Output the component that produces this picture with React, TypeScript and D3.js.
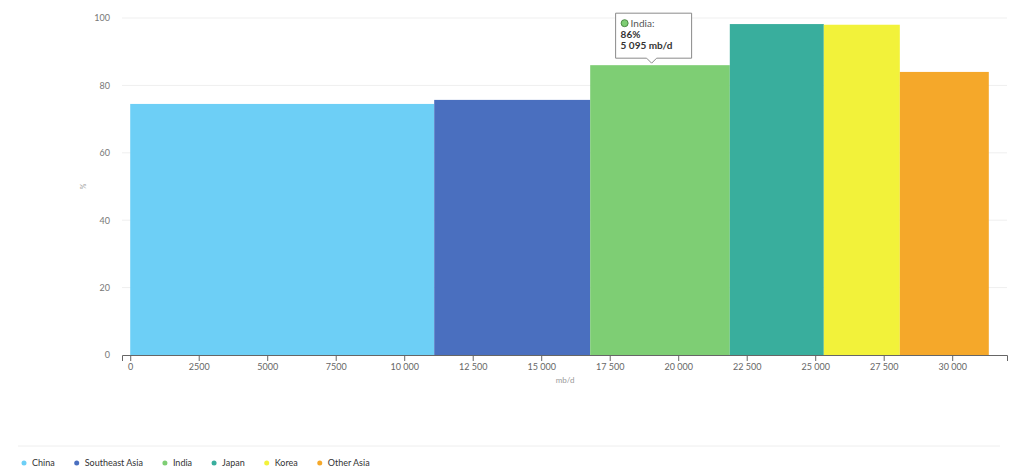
import { useEffect, useRef } from 'react'
import * as d3 from 'd3'

// Regions, share (%) and volume (mb/d, bar width)
const REGIONS = ['China', 'Southeast Asia', 'India', 'Japan', 'Korea', 'Other Asia']
const SHARES = [74.5, 75.7, 86, 98.2, 98, 84]
const VOLUMES = [11095, 5693, 5095, 3431, 2774, 3248]
const COLORS = ['#6DCFF6', '#4A6FBF', '#7ECE74', '#39AE9D', '#F2F23A', '#F5A82A']
const X_TICKS = [0, 2500, 5000, 7500, 10000, 12500, 15000, 17500, 20000, 22500, 25000, 27500, 30000]
const Y_TICKS = [0, 20, 40, 60, 80, 100]
const TOOLTIP_INDEX = 2

const W = 1015
const H = 470
const FONT = 'Lato, "Open Sans", sans-serif'

const spaced = (v: number) => d3.format(',')(v).replace(/,/g, ' ')
const fmtX = (v: number) => (v >= 10000 ? spaced(v) : String(v))

export default function App() {
  const svgRef = useRef<SVGSVGElement>(null)

  useEffect(() => {
    const svg = d3.select(svgRef.current)
    svg.selectAll('*').remove()
    svg.attr('viewBox', `0 0 ${W} ${H}`).style('font-family', FONT)

    const x = d3.scaleLinear().domain([-300, 32000]).range([122, 1007])
    const y = d3.scaleLinear().domain([0, 100]).range([355, 18])

    // starting positions of the variable-width bars
    const starts: number[] = []
    VOLUMES.reduce((acc, v, i) => { starts[i] = acc; return acc + v }, 0)

    // ── grid ──
    const grid = svg.append('g')
    Y_TICKS.filter((t) => t > 0).forEach((t) => {
      grid.append('line')
        .attr('x1', x.range()[0]).attr('x2', x.range()[1])
        .attr('y1', y(t)).attr('y2', y(t))
        .attr('stroke', '#efefef').attr('stroke-width', 1)
    })

    // ── y axis labels ──
    const ya = svg.append('g').attr('transform', `translate(${x.range()[0]},0)`)
      .call(d3.axisLeft(y).tickValues(Y_TICKS).tickSize(0).tickPadding(12))
    ya.select('.domain').remove()
    ya.selectAll('text').attr('font-size', 9).attr('fill', '#777').style('font-family', FONT)

    svg.append('text')
      .attr('transform', `translate(86,${y(50)}) rotate(-90)`)
      .attr('text-anchor', 'middle').attr('font-size', 7).attr('fill', '#999')
      .text('%')

    // ── bars ──
    svg.append('g').selectAll('rect')
      .data(REGIONS)
      .join('rect')
      .attr('x', (_, i) => x(starts[i]))
      .attr('width', (_, i) => x(starts[i] + VOLUMES[i]) - x(starts[i]))
      .attr('y', (_, i) => y(SHARES[i]))
      .attr('height', (_, i) => y(0) - y(SHARES[i]))
      .attr('fill', (_, i) => COLORS[i])

    // ── x axis ──
    const xa = svg.append('g').attr('transform', `translate(0,${y(0)})`)
      .call(d3.axisBottom(x).tickValues(X_TICKS).tickFormat((d) => fmtX(+d))
        .tickSizeOuter(0).tickSize(6).tickPadding(3))
    xa.select('.domain').attr('stroke', '#666')
    xa.selectAll('.tick line').attr('stroke', '#666')
    xa.selectAll('text').attr('font-size', 9).attr('fill', '#666').style('font-family', FONT)

    svg.append('text')
      .attr('x', 565).attr('y', 383)
      .attr('text-anchor', 'middle').attr('font-size', 8).attr('fill', '#999')
      .text('mb/d')

    // ── tooltip ──
    const ti = TOOLTIP_INDEX
    const tipX = x(starts[ti] + VOLUMES[ti] * 0.44)
    const tipY = y(SHARES[ti]) - 1
    const bw = 76, bh = 45
    const bx = tipX - 36, by = tipY - 6 - bh
    const tip = svg.append('g')
    tip.append('path')
      .attr('d', `M${bx},${by} h${bw} v${bh} H${tipX + 5} l-5,5 l-5,-5 H${bx} Z`)
      .attr('fill', '#fff').attr('stroke', '#8a8a8a').attr('stroke-width', 1)
    tip.append('circle')
      .attr('cx', bx + 9).attr('cy', by + 10).attr('r', 3.5)
      .attr('fill', COLORS[ti]).attr('stroke', '#4d8a46').attr('stroke-width', 1)
    tip.append('text')
      .attr('x', bx + 15).attr('y', by + 13.5)
      .attr('font-size', 10).attr('fill', '#555')
      .text(`${REGIONS[ti]}:`)
    tip.append('text')
      .attr('x', bx + 5).attr('y', by + 25)
      .attr('font-size', 10).attr('font-weight', 700).attr('fill', '#333')
      .text(`${SHARES[ti]}%`)
    tip.append('text')
      .attr('x', bx + 5).attr('y', by + 36)
      .attr('font-size', 10).attr('font-weight', 700).attr('fill', '#333')
      .text(`${spaced(VOLUMES[ti])} mb/d`)

    // ── legend ──
    svg.append('line')
      .attr('x1', 18).attr('x2', 1000).attr('y1', 446).attr('y2', 446)
      .attr('stroke', '#eee')
    const leg = svg.append('g').attr('transform', 'translate(24,463)')
    let lx = 0
    REGIONS.forEach((r, i) => {
      const it = leg.append('g').attr('transform', `translate(${lx},0)`)
      it.append('circle').attr('cx', 0).attr('cy', 0).attr('r', 2.5).attr('fill', COLORS[i])
      const t = it.append('text')
        .attr('x', 8).attr('y', 3)
        .attr('font-size', 9).attr('fill', '#333')
        .text(r)
      const w = (t.node() as SVGTextElement).getComputedTextLength()
      lx += 8 + w + 22
    })
  }, [])

  return (
    <svg ref={svgRef} width={W} height={H}
      style={{ position: 'absolute', left: 0, top: 0, display: 'block' }} />
  )
}
